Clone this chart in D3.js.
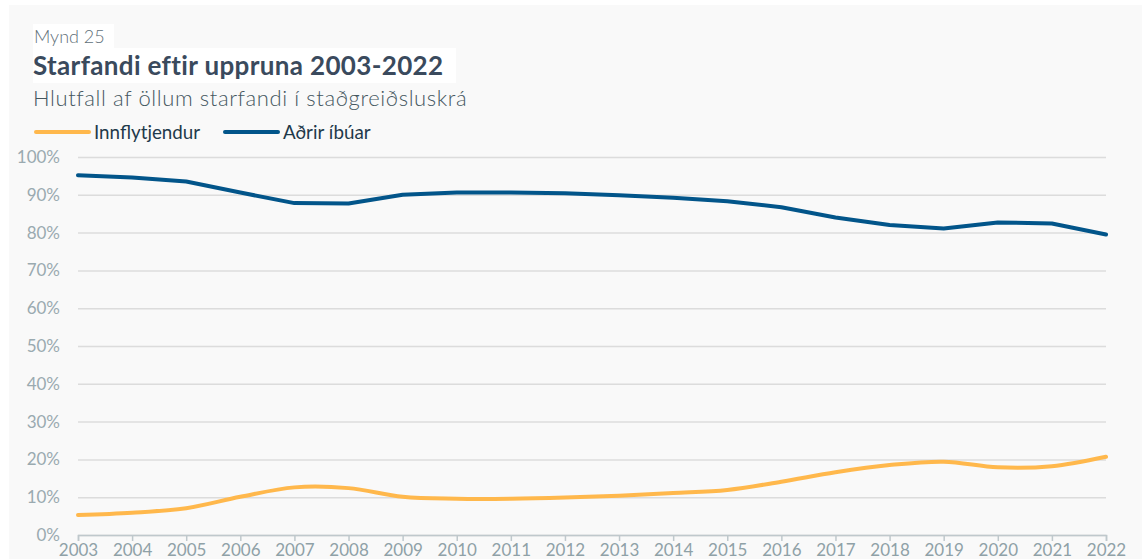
<!DOCTYPE html>
<html>
<head>
<meta charset="utf-8">
<script src="https://cdn.jsdelivr.net/npm/d3@7"></script>
<style>
  body { margin: 0; background: #ffffff; font-family: Lato, "Open Sans", sans-serif; }
</style>
</head>
<body>
<div id="graph"></div>
<script>
const years = [2003, 2004, 2005, 2006, 2007, 2008, 2009, 2010, 2011, 2012,
  2013, 2014, 2015, 2016, 2017, 2018, 2019, 2020, 2021, 2022];
const innflytjendur = [5.3, 5.9, 7.1, 10.1, 12.6, 12.4, 10.1, 9.6, 9.6, 9.9,
  10.4, 11.1, 11.9, 14.1, 16.6, 18.5, 19.4, 17.9, 18.2, 20.7];
const adrirIbuar = [95.2, 94.6, 93.5, 90.6, 87.8, 87.7, 90.0, 90.6, 90.6, 90.4,
  89.9, 89.2, 88.3, 86.7, 84.0, 82.0, 81.1, 82.7, 82.4, 79.5];
const yTicks = [0, 10, 20, 30, 40, 50, 60, 70, 80, 90, 100];

const orange = '#ffb84c';
const blue = '#02558a';

const width = 1142;
const height = 559;
let dimensions = {
  width: width,
  height: height,
  margin: { top: 157, right: 36, bottom: 24, left: 78 },
};
dimensions.boundedWidth = dimensions.width - dimensions.margin.left - dimensions.margin.right;
dimensions.boundedHeight = dimensions.height - dimensions.margin.top - dimensions.margin.bottom;

function drawChart() {
  const wrapper = d3.select('#graph')
    .append('svg')
    .attr('width', dimensions.width)
    .attr('height', dimensions.height);

  // panel background
  wrapper.append('rect')
    .attr('x', 9).attr('y', 5)
    .attr('width', width - 9).attr('height', height - 5)
    .attr('fill', '#f9f9f9');

  // heading boxes
  wrapper.append('rect').attr('x', 33).attr('y', 24).attr('width', 81).attr('height', 24).attr('fill', '#fff');
  wrapper.append('rect').attr('x', 33).attr('y', 48).attr('width', 423).attr('height', 35).attr('fill', '#fff');

  wrapper.append('text')
    .attr('x', 34).attr('y', 43)
    .attr('font-size', '18px').attr('font-weight', 300)
    .attr('fill', '#5f7079')
    .text('Mynd 25');

  wrapper.append('text')
    .attr('x', 33).attr('y', 75)
    .attr('font-size', '26px').attr('font-weight', 700)
    .attr('letter-spacing', '0.35px')
    .attr('fill', '#3a4a5d')
    .text('Starfandi eftir uppruna 2003-2022');

  wrapper.append('text')
    .attr('x', 33).attr('y', 106)
    .attr('font-size', '22px').attr('font-weight', 300)
    .attr('letter-spacing', '0.6px')
    .attr('fill', '#45575f')
    .text('Hlutfall af öllum starfandi í staðgreiðsluskrá');

  // legend
  const legendItems = [
    { name: 'Innflytjendur', color: orange, x: 36 },
    { name: 'Aðrir íbúar', color: blue, x: 225 },
  ];
  const legend = wrapper.append('g');
  legendItems.forEach(item => {
    legend.append('line')
      .attr('x1', item.x).attr('x2', item.x + 53)
      .attr('y1', 132).attr('y2', 132)
      .attr('stroke', item.color).attr('stroke-width', 4)
      .attr('stroke-linecap', 'round');
    legend.append('text')
      .attr('x', item.x + 58).attr('y', 139)
      .attr('font-size', '18.8px')
      .attr('fill', '#1f3a4b')
      .text(item.name);
  });

  const bounds = wrapper.append('g')
    .attr('transform', `translate(${dimensions.margin.left},${dimensions.margin.top})`);

  const xScaler = d3.scaleLinear()
    .domain(d3.extent(years))
    .range([0, dimensions.boundedWidth]);

  const yScaler = d3.scaleLinear()
    .domain([0, 100])
    .range([dimensions.boundedHeight, 0]);

  // gridlines
  const yAxisGen = d3.axisLeft(yScaler)
    .tickValues(yTicks)
    .tickSize(-dimensions.boundedWidth)
    .tickPadding(18)
    .tickFormat(d => d + '%');

  const yAxis = bounds.append('g').call(yAxisGen);
  yAxis.select('.domain').remove();
  yAxis.selectAll('.tick line')
    .attr('stroke', '#dcdcdc').attr('stroke-width', 1.5);
  yAxis.selectAll('.tick text')
    .attr('font-family', 'Lato').attr('font-size', '17px')
    .attr('fill', '#9aaab0');

  const xAxisGen = d3.axisBottom(xScaler)
    .tickValues(years)
    .tickSize(6)
    .tickPadding(3)
    .tickFormat(d3.format('d'));

  const xAxis = bounds.append('g')
    .attr('transform', `translate(0,${dimensions.boundedHeight})`)
    .call(xAxisGen);
  xAxis.select('.domain').attr('stroke', '#bfc8cc').attr('stroke-width', 1.5);
  xAxis.selectAll('.tick line').attr('stroke', '#bfc8cc').attr('stroke-width', 1.5);
  xAxis.selectAll('.tick text')
    .attr('font-family', 'Lato').attr('font-size', '17px')
    .attr('fill', '#8fa1a7');

  const orangeLine = d3.line()
    .x((d, i) => xScaler(years[i]))
    .y(d => yScaler(d))
    .curve(d3.curveCardinal.tension(0));

  const blueLine = d3.line()
    .x((d, i) => xScaler(years[i]))
    .y(d => yScaler(d));

  bounds.append('path')
    .datum(innflytjendur)
    .attr('d', orangeLine)
    .attr('fill', 'none')
    .attr('stroke', orange)
    .attr('stroke-width', 4)
    .attr('stroke-linecap', 'round');

  bounds.append('path')
    .datum(adrirIbuar)
    .attr('d', blueLine)
    .attr('fill', 'none')
    .attr('stroke', blue)
    .attr('stroke-width', 4)
    .attr('stroke-linejoin', 'round')
    .attr('stroke-linecap', 'round');
}

drawChart();
</script>
</body>
</html>
